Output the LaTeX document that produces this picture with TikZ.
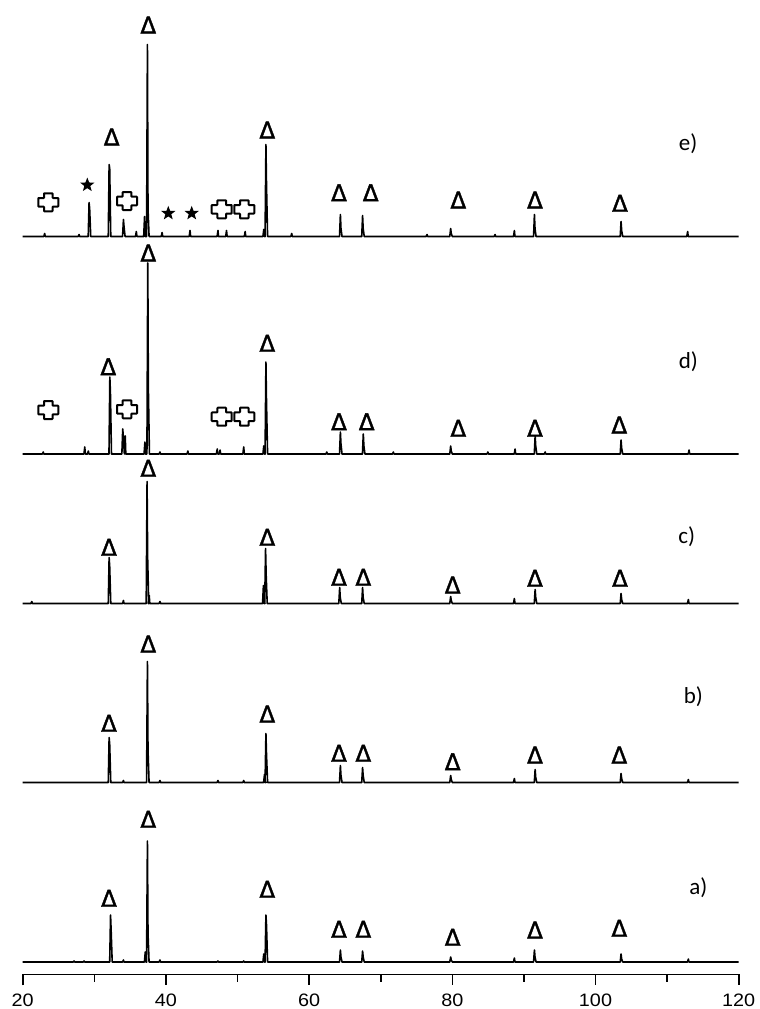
\documentclass[tikz,border=0pt]{standalone}
\usepackage{fontspec}
\setmainfont{Carlito}
\newfontfamily\axisfont{Liberation Sans}
\newfontfamily\markfont[FakeBold=1.6]{DejaVu Sans}
\usetikzlibrary{shapes.geometric}

\tikzset{
  trace/.style={line width=1.6pt, line join=round},
  axisline/.style={line width=1.6pt},
  peakmark/.style={font=\markfont\fontsize{23}{23}\selectfont, inner sep=0},
  curvelabel/.style={font=\fontsize{23}{23}\selectfont, inner sep=0},
  ticklabel/.style={font=\axisfont\fontsize{18}{18}\selectfont, xscale=1.1, inner sep=0},
  starmark/.style={star, star points=5, star point ratio=2.4, fill=black, minimum size=15pt, inner sep=0},
  pics/plusmark/.style={code={
    \draw[line width=2pt, rounded corners=0.6pt] (-4.3,-9) -- (4.3,-9) -- (4.3,-4.3) -- (10,-4.3) -- (10,4.3) -- (4.3,4.3) -- (4.3,9) -- (-4.3,9) -- (-4.3,4.3) -- (-10,4.3) -- (-10,-4.3) -- (-4.3,-4.3) -- cycle;}}
}

\begin{document}
\begin{tikzpicture}[x=1pt, y=-1pt]
    \useasboundingbox (0,0) rectangle (760,1009);

    % axis
    \begin{scope}[shift={(-120.5,974.3)}, x=7.16pt]
        \draw[axisline] (20,11) -- (20,0) -- (120,0) -- (120,11);
        \foreach \t in {40,60,80,100} \draw[axisline] (\t,0) -- (\t,11);
        \foreach \t in {30,50,...,110} \draw[axisline] (\t,0) -- (\t,7.5);
        \foreach \t in {20,40,...,120} \node[ticklabel] (x\t) at (\t,26) {\t};
    \end{scope}

    % a)
    \begin{scope}[shift={(-120.5,962)}, x=7.16pt]
        \draw[trace] (20,0) \foreach \t/\h/\s in {27.2/1/0, 28.6/1/0, 32.3/47/32, 34.1/2/0, 37.15/10/0, 37.45/121/29, 39.2/2/0, 47.3/1/0, 50.9/1/0, 53.7/8/0, 54.0/47/37, 64.4/12/5, 67.5/11/5, 79.8/5/2, 88.7/4/0, 91.5/12/5, 103.6/8/3, 113.0/3/0}
            { -- (\t-0.15,0) -- (\t-0.03,-\h) -- (\t+0.05,-\s) -- (\t+0.2,0) } -- (120,0);
    \end{scope}

    % b)
    \begin{scope}[shift={(-120.5,782.5)}, x=7.16pt]
        \draw[trace] (20,0) \foreach \t/\h/\s in {32.1/45/38, 34.1/2/0, 37.45/121/33, 39.2/2/0, 47.3/2/0, 50.9/2/0, 53.8/8/0, 54.0/49/28, 64.4/17/7, 67.5/15/7, 79.8/7/3, 88.7/4/0, 91.6/13/5, 103.6/9/4, 113.0/3/0}
            { -- (\t-0.15,0) -- (\t-0.03,-\h) -- (\t+0.05,-\s) -- (\t+0.2,0) } -- (120,0);
    \end{scope}

    % c)
    \begin{scope}[shift={(-120.5,603.5)}, x=7.16pt]
        \draw[trace] (20,0) \foreach \t/\h/\s in {21.3/2/0, 32.1/46/37, 34.1/3/0, 37.4/122/46, 37.7/8/0, 39.2/2/0, 53.65/18/0, 53.95/55/29, 64.3/16/6, 67.5/16/6, 79.8/7/3, 88.7/5/0, 91.6/14/6, 103.6/10/4, 113.0/4/0}
            { -- (\t-0.15,0) -- (\t-0.03,-\h) -- (\t+0.05,-\s) -- (\t+0.2,0) } -- (120,0);
    \end{scope}

    % d)
    \begin{scope}[shift={(-120.5,454)}, x=7.16pt]
        \draw[trace] (20,0) \foreach \t/\h/\s in {22.9/2/0, 28.7/7/0, 29.2/3/0, 32.2/77/62, 34.0/25/18, 34.35/18/0, 37.1/12/0, 37.5/191/66, 39.2/2/0, 43.1/3/0, 47.2/5/0, 47.6/4/0, 50.9/7/0, 53.7/8/0, 54.0/92/52, 62.5/2/0, 64.4/22/10, 67.6/20/8, 71.8/2/0, 79.8/8/3, 85.0/2/0, 88.8/5/0, 91.6/18/8, 93.0/2/0, 103.6/14/6, 113.1/4/0}
            { -- (\t-0.15,0) -- (\t-0.03,-\h) -- (\t+0.05,-\s) -- (\t+0.2,0) } -- (120,0);
    \end{scope}

    % e)
    \begin{scope}[shift={(-120.5,236.5)}, x=7.16pt]
        \draw[trace] (20,0) \foreach \t/\h/\s in {23.1/3/0, 27.9/2/0, 29.3/34/28, 32.1/72/68, 34.1/17/10, 35.9/5/0, 37.05/20/0, 37.45/192/28, 39.5/4/0, 43.4/6/0, 47.3/6/0, 48.5/6/0, 51.1/5/0, 53.7/7/0, 54.0/92/52, 57.6/3/0, 64.4/22/8, 67.5/21/8, 76.5/2/0, 79.8/8/3, 86.0/2/0, 88.7/6/0, 91.5/22/8, 103.6/15/6, 112.9/5/0}
            { -- (\t-0.15,0) -- (\t-0.03,-\h) -- (\t+0.05,-\s) -- (\t+0.2,0) } -- (120,0);
    \end{scope}

    % peak markers
    \foreach \x/\y [count=\i] in {148.3/25, 111.7/137, 267.3/130, 339/192.7, 370.7/192.7, 458.3/200, 535/200, 620/203.3}
        \node[peakmark] (te\i) at (\x,\y) {Δ};
    \foreach \x/\y [count=\i] in {148.3/253, 108.3/366.7, 267.3/343.3, 339/421.7, 366.7/421.7, 458.3/428.3, 535/428.3, 619.3/425}
        \node[peakmark] (td\i) at (\x,\y) {Δ};
    \foreach \x/\y [count=\i] in {148.3/468.3, 109/547.3, 267.3/537.3, 339/577.3, 363.3/577.3, 452.7/585, 535/578.3, 620/578.3}
        \node[peakmark] (tc\i) at (\x,\y) {Δ};
    \foreach \x/\y [count=\i] in {148.3/644, 109/723.3, 267.3/714, 339/753.3, 363.3/753.3, 452.7/761.7, 535/755, 619.3/755}
        \node[peakmark] (tb\i) at (\x,\y) {Δ};
    \foreach \x/\y [count=\i] in {148.3/819.3, 109/898.3, 267.3/889.3, 339/929.3, 363.3/929.3, 452.7/937.3, 535/930, 619.3/928.3}
        \node[peakmark] (ta\i) at (\x,\y) {Δ};

    % other phases
    \foreach \x/\y in {48.3/202.3, 127/201, 221.7/209.3, 244.3/209.3, 48.3/410, 127/409.3, 221.7/416.7, 244.3/416.7}
        \pic at (\x,\y) {plusmark};
    \foreach \x/\y [count=\i] in {87.3/185, 168.3/213.3, 191.7/213.3}
        \node[starmark] (se\i) at (\x,\y) {};

    % curve labels
    \node[curvelabel] (le) at (688,143.3) {e)};
    \node[curvelabel] (ld) at (688.3,361.7) {d)};
    \node[curvelabel] (lc) at (686.7,536.7) {c)};
    \node[curvelabel] (lb) at (693.3,696.7) {b)};
    \node[curvelabel] (la) at (698.3,888) {a)};
\end{tikzpicture}
\end{document}
